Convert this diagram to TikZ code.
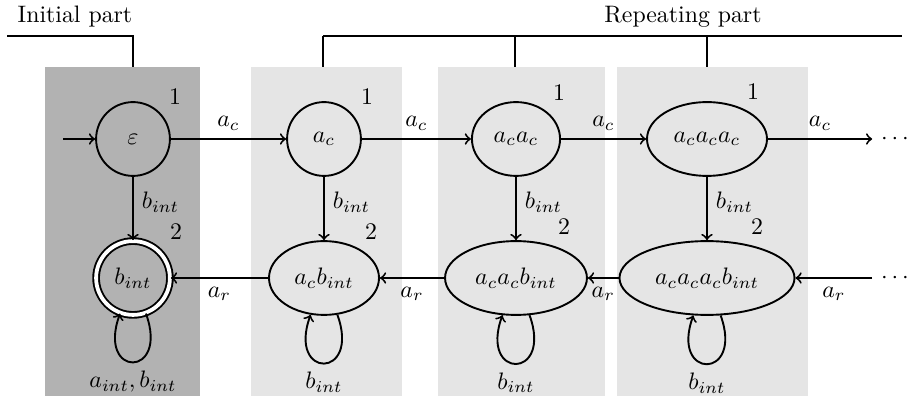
\documentclass[tikz,border=0pt]{standalone}
\usetikzlibrary{shapes.geometric,topaths}
\begin{document}
\begin{tikzpicture}[x=0.42pt,y=-0.42pt, line width=0.8pt, >=to,
  st/.style={draw, circle, minimum size=31pt, inner sep=0pt},
  el/.style={draw, ellipse, inner sep=0pt, minimum height=31pt},
  darkbox/.style={fill=black!30},
  lightbox/.style={fill=black!10},
  thinline/.style={line width=0.55pt},
  boldseg/.style={line width=0.95pt},
  selfloop/.style={out=-70, in=-110, looseness=1, min distance=29pt}]
\useasboundingbox (0,0) rectangle (910,399);
% background boxes
\fill[darkbox] (45,67) rectangle (200,396);
\fill[lightbox] (251,67) rectangle (402,396);
\fill[lightbox] (438,67) rectangle (605,396);
\fill[lightbox] (617,67) rectangle (808,396);
% titles
\node (tInit) at (75,17) {Initial part};
\node (tRep) at (683,17) {Repeating part};
% brackets
\coordinate (iL) at (7,36); \coordinate (iC) at (133,36); \coordinate (iB) at (133,67);
\draw (iL) -- (iC) -- (iB);
\coordinate (rA) at (323,67); \coordinate (rAt) at (323,36); \coordinate (rE) at (902,36);
\coordinate (rB) at (515,67); \coordinate (rBt) at (515,36); \coordinate (rBe) at (578,36);
\coordinate (rC) at (707,67); \coordinate (rCt) at (707,36); \coordinate (rCe) at (774,36);
\draw (rA) -- (rAt);
\draw[thinline] (rAt) -- (rE);
\draw[boldseg] (rBt) -- (rBe);
\draw[boldseg] (rCt) -- (rCe);
\draw (rBt) -- (rB);
\draw (rCt) -- (rC);
% states
\node[st] (q1) at (133,139) {$\varepsilon$};
\node[st] (q2) at (324,139) {$a_c$};
\node[el, minimum width=37pt] (q3) at (516,139) {$a_ca_c$};
\node[el, minimum width=50.4pt] (q4) at (707,139) {$a_ca_ca_c$};
\node[st, double=white, double distance=1.6pt] (r1) at (133,278) {$b_{int}$};
\node[el, minimum width=46.2pt] (r2) at (324,278) {$a_cb_{int}$};
\node[el, minimum width=59.6pt] (r3) at (516,278) {$a_ca_cb_{int}$};
\node[el, minimum width=73.5pt] (r4) at (707,278) {$a_ca_ca_cb_{int}$};
% numbers
\node (n1a) at (175,97) {1};
\node (n1b) at (367,97) {1};
\node (n1c) at (559,93) {1};
\node (n1d) at (753,92) {1};
\node (n2a) at (176,232) {2};
\node (n2b) at (371,232) {2};
\node (n2c) at (564,227) {2};
\node (n2d) at (757,227) {2};
% dots
\node (d1) at (895,139) {$\cdots$};
\node (d2) at (895,278) {$\cdots$};
% edges
\coordinate (start) at (63,139);
\draw[->] (start) -- (q1);
\draw[->] (q1) -- node[above] {$a_c$} (q2);
\draw[->] (q2) -- node[above] {$a_c$} (q3);
\draw[->] (q3) -- node[above] {$a_c$} (q4);
\draw[->] (q4) -- node[above] {$a_c$} (d1);
\draw[->] (q1) -- node[right, pos=0.4] {$b_{int}$} (r1);
\draw[->] (q2) -- node[right, pos=0.4] {$b_{int}$} (r2);
\draw[->] (q3) -- node[right, pos=0.4] {$b_{int}$} (r3);
\draw[->] (q4) -- node[right, pos=0.4] {$b_{int}$} (r4);
\draw[->] (r2) -- node[below] {$a_r$} (r1);
\draw[->] (r3) -- node[below] {$a_r$} (r2);
\draw[->] (r4) -- node[below] {$a_r$} (r3);
\draw[->] (d2) -- node[below] {$a_r$} (r4);
\draw[->] (r1) to[selfloop] node[below] {$a_{int},b_{int}$} (r1);
\draw[->] (r2) to[selfloop] node[below] {$b_{int}$} (r2);
\draw[->] (r3) to[selfloop] node[below] {$b_{int}$} (r3);
\draw[->] (r4) to[selfloop] node[below] {$b_{int}$} (r4);
\end{tikzpicture}
\end{document}
